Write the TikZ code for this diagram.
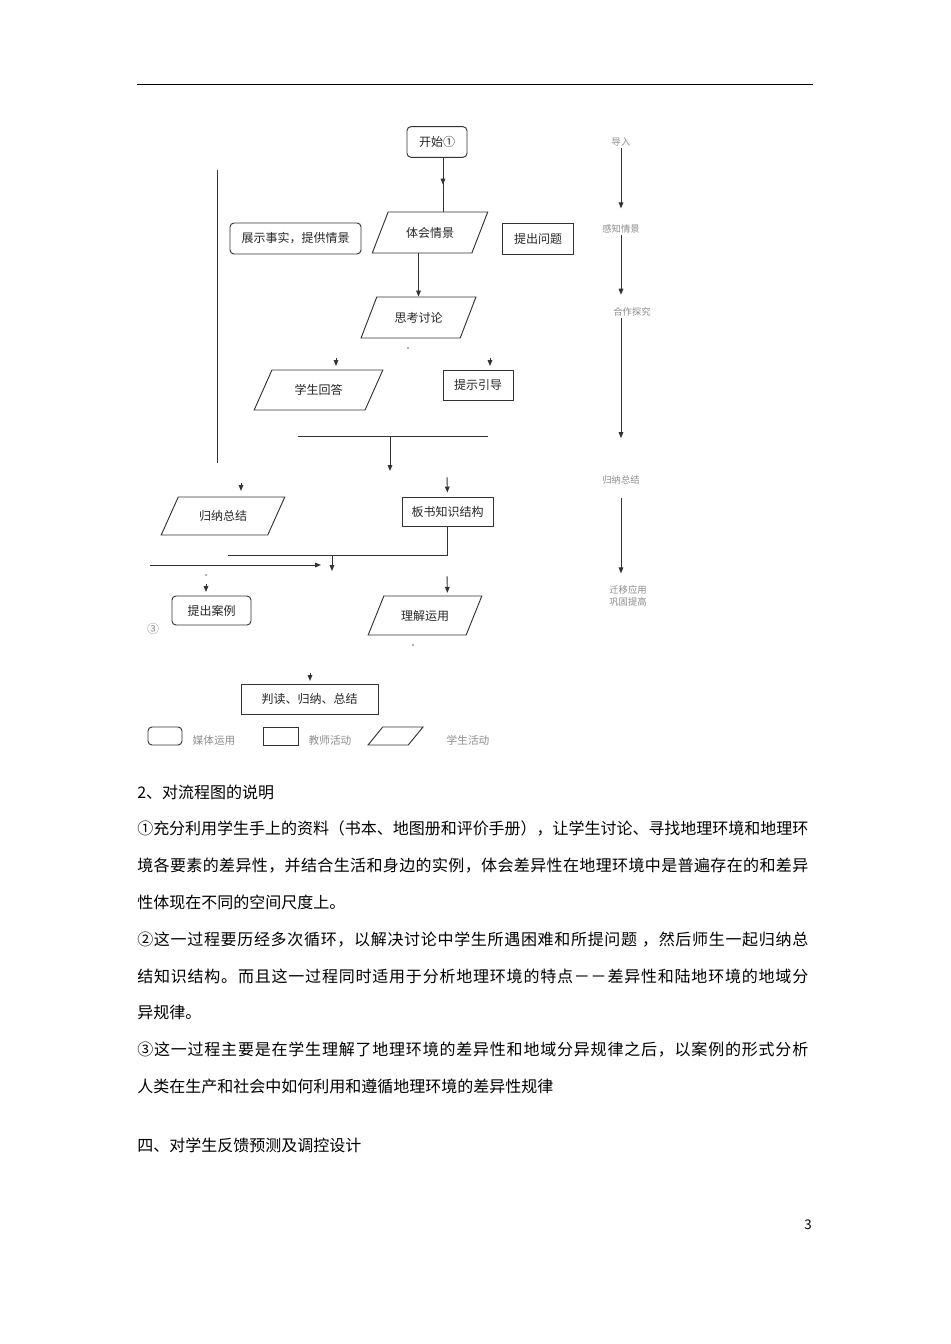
\documentclass[tikz,border=0pt]{standalone}
\usepackage{fontspec}
\setmainfont{Noto Sans CJK SC}
\usetikzlibrary{shapes.geometric,arrows.meta,decorations.markings}
\setlength{\parindent}{0pt}

% a full text line, spread to the column width
\makeatletter
\def\fullline#1{\hbox to 503.25pt{\fl@first#1\fl@end}}
\def\fl@first#1{#1\fl@next}
\def\fl@next#1{\ifx#1\fl@end\else\hskip 0pt plus 1fil minus 0.05pt\relax #1\expandafter\fl@next\fi}
\makeatother

\tikzset{
  box/.style={draw=black!80, line width=0.7pt, font=\fontsize{9}{11}\selectfont, text=black!85, inner sep=1pt},
  rbox/.style={box, rounded corners=3pt},
  pbox/.style={box, trapezium, trapezium left angle=55, trapezium right angle=125, trapezium stretches=true},
  arr/.style={-{Triangle[length=4.5pt,width=3.5pt]}},
  midarr/.style={postaction={decorate}, decoration={markings, mark=at position #1 with {\arrow{Triangle[length=4.5pt,width=3.5pt]}}}},
  flow/.style={draw=black!80, line width=0.7pt},
  faint/.style={text=black!45, font=\fontsize{7}{9}\selectfont, inner sep=1pt},
  bodyline/.style={anchor=base west, inner sep=0pt, font=\fontsize{12}{14}\selectfont},
}

\begin{document}
\begin{tikzpicture}[x=0.75pt, y=-0.75pt]
\useasboundingbox (0,0) rectangle (950,1344);
\draw[line width=0.6pt] (137,84) -- (813,84);

% flow chart
\node[rbox, minimum width=45pt, minimum height=23pt] (kaishi) at (437,142) {开始①};
\node[pbox, minimum width=87pt, minimum height=30.75pt] (tihui) at (430,232.5) {体会情景};
\node[rbox, minimum width=98.25pt, minimum height=23.25pt] (zhanshi) at (295.5,238.5) {展示事实，提供情景};
\node[box, minimum width=53.25pt, minimum height=23.25pt] (wenti) at (538,238.5) {提出问题};
\node[pbox, minimum width=86.25pt, minimum height=30.75pt] (sikao) at (418.5,317.5) {思考讨论};
\node[pbox, minimum width=96.75pt, minimum height=30pt] (huida) at (318.5,390) {学生回答};
\node[box, minimum width=52.5pt, minimum height=22.5pt] (yindao) at (478,385) {提示引导};
\node[box, minimum width=68.25pt, minimum height=21.75pt] (banshu) at (447.5,511.5) {板书知识结构};
\node[pbox, minimum width=93pt, minimum height=28.5pt] (guina) at (223,516) {归纳总结};
\node[rbox, minimum width=59.25pt, minimum height=21.75pt] (anli) at (211.5,610.5) {提出案例};
\node[pbox, minimum width=85.5pt, minimum height=29.25pt] (yunyong) at (425,615.5) {理解运用};
\node[box, minimum width=102.75pt, minimum height=22.5pt] (pandu) at (309.5,699) {判读、归纳、总结};
\node[faint, font=\fontsize{9}{11}\selectfont] (san) at (153,629) {③};

\draw[flow, midarr=0.5] ([xshift=4.5pt]kaishi.south) -- ([xshift=4.5pt]kaishi.south |- tihui.north);
\draw[flow, arr] (tihui.south -| sikao.north) -- (sikao.north);
\draw[flow] (217,170) -- (217,463);
\draw[flow] (298,436) -- (488,436);
\draw[flow, arr] (390,436) -- (390,471);
\draw[flow, arr, shorten >=3pt] (447,477) -- (banshu.north);
\draw[flow] (banshu.south) |- (228,555);
\draw[flow, arr] (332,555) -- (332,571);
\draw[flow, arr] (150,565) -- (321,565);
\draw[flow, arr, shorten >=2pt] (447,576) -- (yunyong.north -| banshu.south);
\foreach \x/\y in {336/366, 490/366, 241/491, 206/592, 310/681}
{
    \draw[flow, arr] (\x,\y-8) -- (\x,\y);
}
\foreach \x/\y in {206/575, 413/645, 408/348}
{
    \fill[black!60] (\x,\y) circle (0.6pt);
}

% legend
\node[rbox, minimum width=25.5pt, minimum height=13.5pt] (lgone) at (165,736) {};
\node[faint, font=\fontsize{8}{10}\selectfont] (ltone) at (214,740) {媒体运用};
\node[box, minimum width=26.25pt, minimum height=13.5pt] (lgtwo) at (280.5,736) {};
\node[faint, font=\fontsize{8}{10}\selectfont] (lttwo) at (330,740) {教师活动};
\node[pbox, trapezium left angle=60, trapezium right angle=120, minimum width=41.25pt, minimum height=13.5pt] (lgthree) at (395.5,736) {};
\node[faint, font=\fontsize{8}{10}\selectfont] (ltthree) at (468,740) {学生活动};

% right column
\node[faint] (rone) at (621,142) {导入};
\node[faint] (rtwo) at (621,229) {感知情景};
\node[faint] (rthree) at (632,312) {合作探究};
\node[faint] (rfour) at (621,480) {归纳总结};
\node[faint, align=center] (rfive) at (628,596) {迁移应用\\巩固提高};
\draw[flow, arr, shorten >=11pt] (rone.south) -- (rtwo.north);
\draw[flow, arr, shorten >=8.5pt] (rtwo.south) -- (rthree.north -| rtwo.south);
\draw[flow, arr, shorten >=27pt] (rthree.south -| rtwo.south) -- (rfour.north);
\draw[flow, arr, shorten <=9pt, shorten >=8pt] (rfour.south) -- (rfive.north -| rfour.south);

% text
\node[bodyline] (ttl) at (137,798) {2、对流程图的说明};
\node[bodyline] (pa) at (137,834) {\fullline{①充分利用学生手上的资料（书本、地图册和评价手册），让学生讨论、寻找地理环境和地理环}};
\node[bodyline] (pb) at (137,871) {\fullline{境各要素的差异性，并结合生活和身边的实例，体会差异性在地理环境中是普遍存在的和差异}};
\node[bodyline] (pc) at (137,908) {性体现在不同的空间尺度上。};
\node[bodyline] (pd) at (137,945) {\fullline{②这一过程要历经多次循环，以解决讨论中学生所遇困难和所提问题\space，然后师生一起归纳总}};
\node[bodyline] (pe) at (137,982) {\fullline{结知识结构。而且这一过程同时适用于分析地理环境的特点－－差异性和陆地环境的地域分}};
\node[bodyline] (pf) at (137,1018) {异规律。};
\node[bodyline] (pg) at (137,1055) {\fullline{③这一过程主要是在学生理解了地理环境的差异性和地域分异规律之后，以案例的形式分析}};
\node[bodyline] (ph) at (137,1092) {人类在生产和社会中如何利用和遵循地理环境的差异性规律};
\node[bodyline] (pi) at (137,1151) {四、对学生反馈预测及调控设计};
\node[font=\fontsize{10}{12}\selectfont] (pnum) at (808,1225) {3};
\end{tikzpicture}
\end{document}
